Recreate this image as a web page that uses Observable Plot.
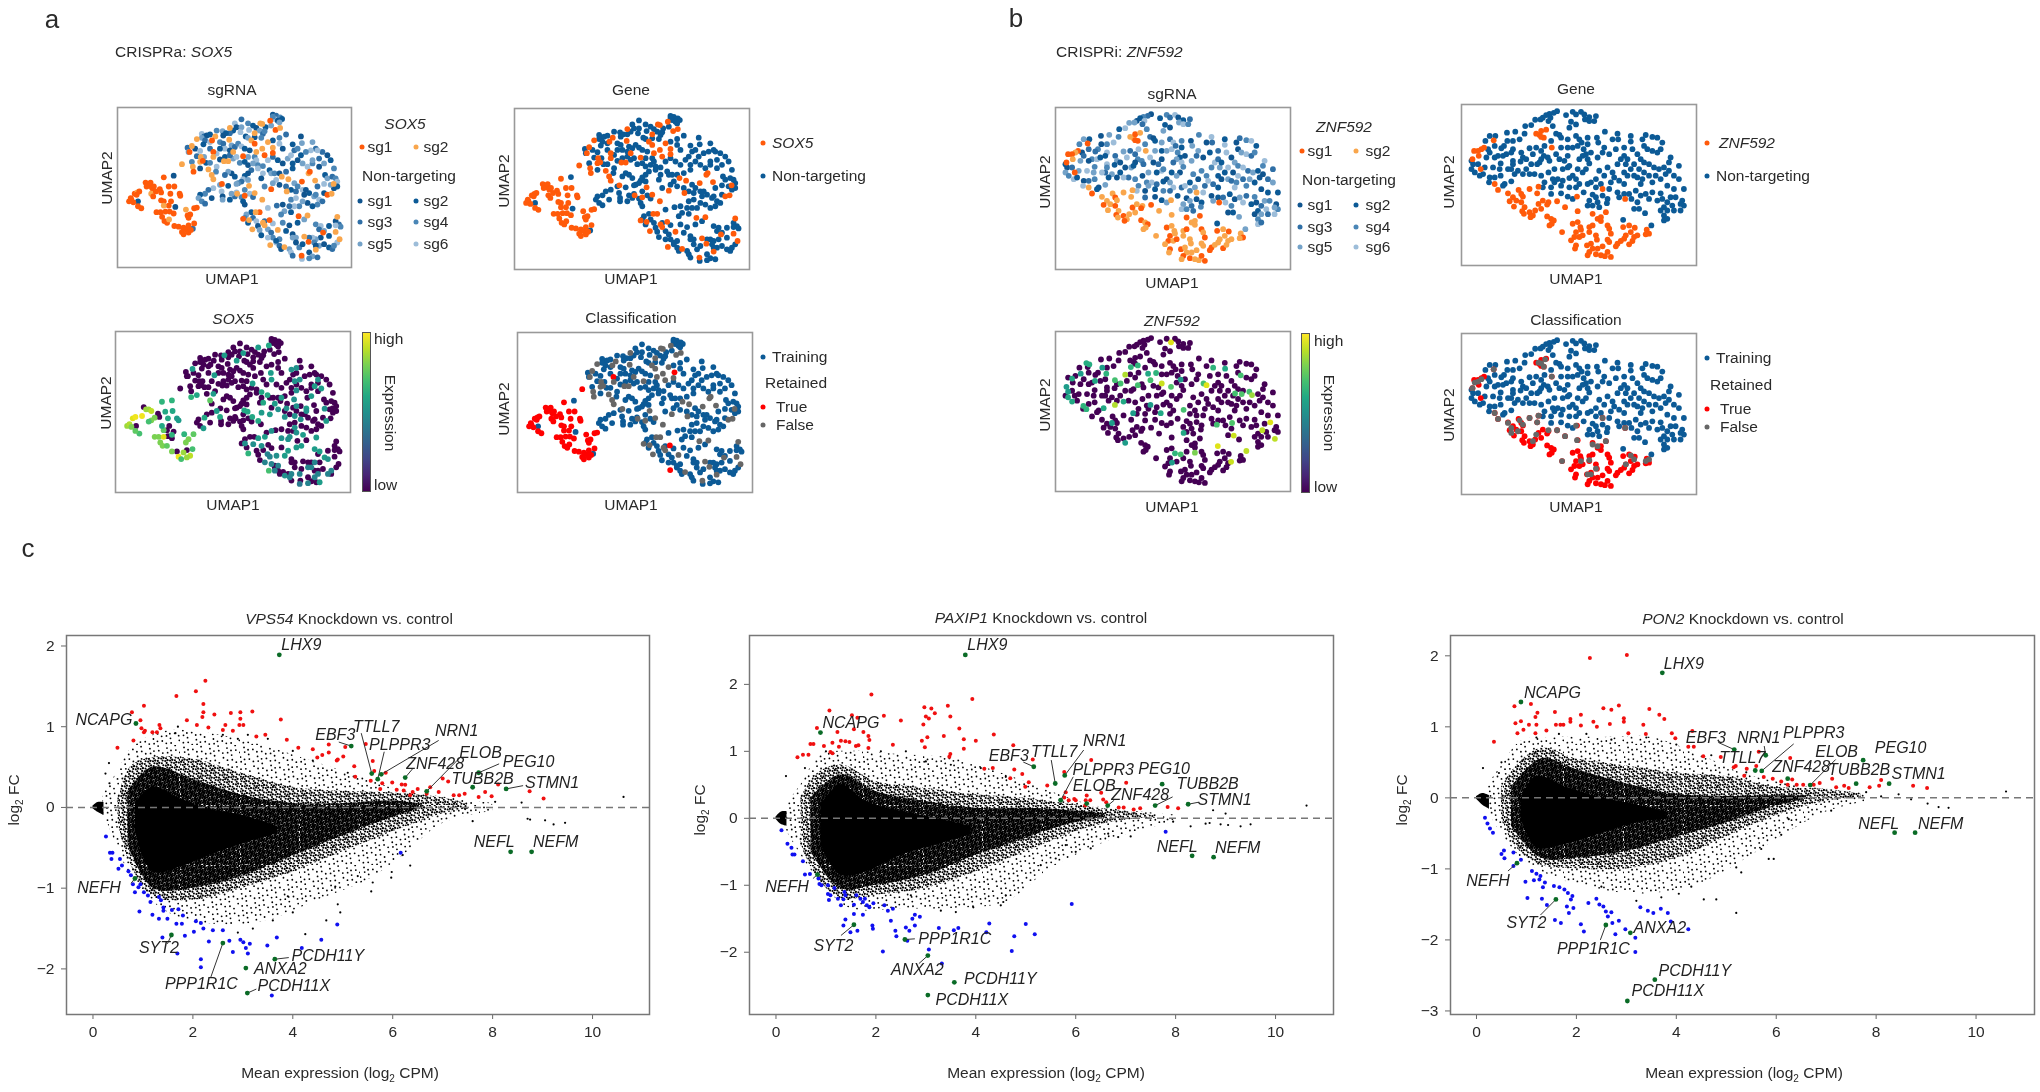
<!DOCTYPE html>
<html><head><meta charset="utf-8">
<script src="https://cdn.jsdelivr.net/npm/d3@7"></script>
<script src="https://cdn.jsdelivr.net/npm/@observablehq/plot@0.6"></script>
<style>
html,body{margin:0;padding:0;background:#fff}
#page{position:relative;width:2040px;height:1092px;overflow:hidden;font-family:"Liberation Sans",Arial,sans-serif;color:#2a2a2a;filter:blur(.45px)}
#page svg{position:absolute;overflow:visible;background:transparent}
.t{position:absolute;white-space:nowrap;font-size:15.5px;line-height:1}
.d{position:absolute;border-radius:50%;width:5px;height:5px;transform:translate(-50%,-50%)}
sub{font-size:10px;line-height:0}
</style></head><body><div id="page"></div>
<script>
// ---------- UMAP, experiment a (CRISPRa SOX5) ----------
const umapA_left=[[35,285],[42,280],[48,288],[40,275],[52,262],[60,258],[66,255],[58,265],[85,228],[92,232],[98,238],[105,245],[88,240],[100,228],[110,240],[102,262],[108,270],[116,255],[128,248],[132,258],[155,240],[172,240],[140,212],[195,172],[160,262],[188,262],[190,268],[132,282],[140,285],[162,285],[155,298],[140,298],[62,300],[72,306],[118,318],[130,318],[145,316],[158,316],[170,322],[135,332],[142,345],[150,350],[156,340],[172,360],[185,362],[200,365],[208,370],[195,378],[200,385],[215,380],[222,372],[232,352],[215,358],[207,310],[212,328],[220,325],[215,335],[232,306],[240,304]];
const umapA_up=[[240,96],[225,117],[218,135],[296,88],[286,100],[338,98],[340,62],[415,78],[405,100],[415,110],[438,50],[432,48],[462,40],[478,68],[492,62],[455,105],[470,122],[470,138],[438,125],[420,135],[445,145],[350,135],[380,148],[322,163],[335,163],[290,135],[275,188],[252,150],[250,165],[258,162],[290,150],[228,180],[230,195],[285,205],[290,218],[316,232],[398,238],[415,260],[362,262],[385,268],[438,280],[465,248],[512,255],[497,210],[517,218],[558,225],[578,200],[582,195],[598,222],[654,232],[635,265],[648,262],[548,330],[575,328],[665,332],[430,318],[418,318],[380,338],[398,342],[440,350],[445,358],[460,342],[408,370],[485,372],[622,380],[660,378],[672,400],[578,408],[565,392],[505,424],[462,418],[600,432],[557,450]];
const sgUpA="2212122221221122212212122122212212212221212221212212122121222122122122221";
const sgLeftA="11111211111111121111111211111112111111111121111111111211111";
const umapA_retainedExtra=[[289,135],[473,121],[459,343],[460,418]];
const umapA_nt=[[470,22],[480,25],[492,30],[498,35],[475,35],[485,40],[490,45],[465,55],[448,60],[470,28],[375,36],[355,48],[360,60],[350,70],[340,78],[375,60],[372,75],[395,48],[410,55],[420,62],[430,70],[440,80],[445,72],[398,68],[388,88],[395,92],[415,90],[435,92],[255,80],[262,88],[270,85],[280,82],[255,92],[265,100],[280,105],[300,70],[318,72],[328,78],[320,85],[310,105],[320,110],[325,125],[310,125],[345,115],[340,130],[355,120],[365,110],[375,118],[385,125],[400,130],[395,150],[415,150],[420,160],[212,122],[215,135],[235,125],[260,112],[250,132],[240,148],[225,165],[250,185],[262,150],[268,168],[280,168],[280,125],[300,140],[310,158],[325,150],[350,155],[360,150],[340,145],[370,168],[385,165],[395,175],[410,170],[425,175],[425,185],[405,190],[395,200],[385,208],[380,218],[395,220],[375,225],[365,230],[355,210],[345,200],[335,195],[325,205],[300,180],[298,195],[170,207],[310,235],[335,238],[290,245],[275,250],[265,262],[250,265],[245,275],[285,275],[255,285],[265,292],[315,255],[318,270],[318,280],[340,280],[355,270],[360,258],[375,272],[380,285],[385,295],[360,232],[385,250],[400,262],[410,272],[345,262],[62,285],[175,302],[228,368],[445,240],[440,200],[435,215],[460,190],[465,200],[440,178],[455,160],[470,150],[485,160],[500,170],[515,155],[525,145],[535,130],[545,125],[530,112],[558,108],[555,88],[510,82],[490,92],[490,110],[500,125],[470,100],[590,105],[600,125],[585,130],[570,135],[555,145],[545,160],[560,170],[575,180],[590,170],[610,155],[625,170],[635,145],[645,160],[655,185],[620,135],[605,130],[610,180],[590,160],[530,185],[510,195],[480,220],[475,200],[490,200],[530,170],[535,230],[545,240],[560,250],[540,255],[525,250],[490,235],[470,230],[510,240],[525,280],[540,275],[565,265],[580,260],[595,270],[610,280],[620,285],[605,295],[590,300],[575,290],[560,285],[550,300],[535,300],[520,300],[505,315],[525,318],[500,295],[482,298],[455,305],[495,325],[570,250],[628,205],[635,215],[650,210],[660,215],[665,225],[665,240],[655,245],[645,235],[625,232],[605,240],[600,265],[625,260],[405,318],[390,325],[385,335],[410,335],[420,345],[395,350],[425,360],[430,372],[445,345],[470,352],[500,350],[520,358],[545,350],[565,340],[600,355],[615,360],[610,370],[625,375],[640,360],[660,345],[670,355],[675,362],[660,358],[640,390],[615,395],[600,400],[590,395],[580,395],[595,410],[610,420],[625,415],[640,425],[650,430],[665,410],[655,420],[600,420],[435,388],[455,370],[465,380],[470,395],[455,395],[510,375],[530,385],[540,395],[490,400],[480,410],[490,420],[495,430],[480,405],[520,430],[525,440],[530,450],[550,425],[560,415],[580,440],[590,452],[605,455],[580,458],[558,460],[530,395],[540,410]];
const sgNtA="134261552436123564215346251463125364521436251346215463512634152436125634215463126534215364152634251436152364215463521346125463215634251346125364215643512436152364125463215346125634215463521364125346215634125436215364125463521346215634512364125346215463125634215346512364125463215346125634";
const exprA=[[35,285,.85],[42,280,.88],[48,288,.8],[52,262,.95],[60,258,.98],[80,255,.98],[92,235,.85],[100,235,.85],[108,240,.9],[118,260,.8],[108,268,.8],[100,272,.7],[140,212,.65],[170,208,.65],[150,242,.6],[172,240,.6],[158,262,.6],[185,262,.55],[190,268,.55],[145,298,.75],[140,285,.6],[170,312,.65],[118,318,.8],[130,318,.8],[145,318,.95],[135,335,.8],[142,345,.8],[155,345,.75],[170,362,.8],[190,378,.98],[205,365,.85],[225,375,.9],[215,380,.85],[232,355,.7],[198,385,.7],[207,310,.65],[220,325,.8],[212,335,.8],[235,310,.75],[72,308,.7],[60,300,.75],[232,113,.55],[328,72,.55],[365,88,.55],[385,65,.55],[430,48,.55],[462,42,.6],[298,132,.55],[228,198,.65],[245,192,.6],[295,188,.55],[285,208,.75],[413,157,.55],[440,183,.6],[458,192,.6],[468,125,.55],[470,145,.55],[530,115,.5],[545,110,.5],[540,150,.5],[590,195,.55],[620,172,.55],[538,205,.5],[500,200,.55],[480,218,.55],[445,215,.6],[388,238,.6],[398,242,.6],[305,240,.55],[268,260,.6],[315,258,.6],[265,292,.55],[412,258,.6],[430,270,.6],[440,245,.55],[465,250,.55],[510,258,.5],[515,232,.5],[545,225,.5],[575,232,.55],[630,233,.5],[540,255,.5],[558,265,.5],[635,270,.55],[525,318,.5],[545,305,.5],[565,312,.55],[605,320,.55],[520,325,.5],[500,322,.5],[450,318,.55],[430,322,.55],[390,338,.5],[400,368,.65],[458,370,.45],[465,378,.45],[450,395,.45],[510,375,.55],[520,360,.55],[545,350,.55],[600,355,.55],[615,362,.55],[630,380,.55],[600,395,.45],[580,410,.45],[610,430,.45],[525,440,.45],[490,405,.45],[462,420,.7],[510,435,.5],[580,458,.45],[555,460,.4],[615,455,.55],[555,145,.5],[610,145,.5],[600,165,.55],[545,178,.5],[490,235,.5],[575,240,.5],[470,300,.5],[540,290,.5],[560,345,.55],[640,385,.5],[590,410,.45],[650,420,.45],[470,400,.45],[480,420,.45],[530,430,.45],[555,430,.45],[640,430,.45],[600,440,.45],[485,375,.5],[415,340,.5],[440,345,.5]];
// ---------- UMAP, experiment b (CRISPRi ZNF592) ----------
const umapB_target=[[225,88],[235,92],[240,80],[255,76],[248,100],[240,98],[272,130],[97,108],[68,130],[60,135],[50,140],[38,140],[52,155],[33,165],[58,195],[100,240],[110,258],[140,268],[172,258],[180,270],[155,280],[145,292],[165,290],[185,278],[180,295],[158,308],[190,310],[183,322],[188,330],[205,325],[215,335],[208,340],[222,320],[240,315],[232,300],[245,290],[262,295],[258,302],[205,255],[232,248],[228,268],[288,292],[312,310],[350,322],[258,338],[270,345],[278,350],[265,365],[272,360],[395,330],[410,345],[420,340],[435,325],[420,352],[335,360],[350,355],[358,370],[345,385],[340,400],[330,410],[355,400],[365,395],[385,370],[395,365],[385,385],[360,378],[345,425],[342,435],[378,425],[390,420],[395,435],[385,445],[380,455],[405,452],[420,455],[432,458],[450,460],[410,435],[425,428],[440,445],[408,408],[405,395],[440,365],[445,375],[450,390],[440,408],[445,415],[470,420],[480,412],[465,428],[490,405],[495,395],[505,422],[515,412],[520,400],[530,395],[487,370],[505,365],[522,372],[510,385],[558,378],[565,390],[555,392],[303,385],[425,255],[493,285],[348,278]];
const sgTargetB="2212112112112112122121221221212122122122212212122122121221122121221212212122122122121221212212221212212221212";
const umapB_gray=[[240,90],[232,88],[252,78],[248,100],[272,130],[97,108],[50,145],[60,138],[40,148],[33,165],[100,240],[110,258],[140,270],[175,262],[185,275],[150,285],[150,300],[170,295],[205,255],[228,268],[232,248],[262,292],[288,292],[312,310],[348,322],[215,325],[225,305],[303,385],[395,335],[410,340],[435,325],[360,385],[385,382],[405,408],[380,425],[390,425],[345,278],[425,255],[493,285],[510,368],[520,380],[495,395],[555,385],[565,380]];
const umapB_nt=[[288,20],[278,25],[265,28],[255,32],[268,40],[245,40],[238,45],[222,46],[315,32],[335,22],[345,30],[360,22],[370,30],[385,38],[405,35],[372,45],[385,50],[400,50],[330,52],[345,60],[325,70],[262,50],[275,65],[210,62],[192,65],[162,82],[137,85],[190,88],[175,105],[285,88],[295,92],[300,100],[320,105],[345,95],[355,105],[72,110],[85,95],[102,95],[138,110],[128,125],[120,132],[155,135],[150,145],[205,132],[80,135],[85,145],[110,155],[125,155],[135,150],[100,160],[75,160],[118,178],[155,170],[180,145],[185,160],[195,165],[178,172],[215,150],[240,140],[248,155],[240,165],[228,180],[235,175],[260,160],[265,170],[285,150],[295,165],[320,130],[335,130],[350,125],[362,115],[380,100],[380,120],[408,100],[412,115],[432,82],[470,88],[472,105],[455,105],[510,95],[510,112],[430,130],[425,145],[368,135],[375,150],[390,145],[365,155],[355,165],[380,165],[385,178],[375,195],[365,205],[350,195],[320,190],[310,170],[325,185],[305,195],[280,195],[262,205],[240,215],[220,210],[205,210],[185,210],[170,200],[160,210],[150,195],[140,195],[155,180],[30,170],[35,180],[30,195],[40,205],[55,215],[50,180],[70,190],[65,210],[85,220],[100,220],[118,215],[83,235],[130,240],[125,245],[150,232],[275,225],[290,225],[305,230],[325,222],[335,215],[345,225],[355,240],[345,250],[325,250],[300,245],[280,235],[270,250],[270,270],[250,235],[245,250],[300,268],[320,278],[335,285],[380,240],[390,235],[405,250],[368,265],[395,272],[385,290],[380,305],[395,305],[410,295],[405,280],[425,275],[440,285],[438,298],[415,310],[445,255],[470,265],[475,280],[490,270],[505,270],[512,285],[530,295],[520,315],[535,315],[553,328],[455,205],[460,220],[475,230],[490,240],[500,215],[520,215],[530,220],[545,225],[550,205],[535,195],[510,195],[495,180],[480,165],[490,155],[470,180],[500,165],[530,150],[540,165],[550,175],[565,180],[580,190],[595,195],[610,190],[625,200],[655,185],[630,160],[625,175],[615,210],[600,225],[585,215],[565,215],[575,235],[540,240],[525,260],[540,275],[555,270],[565,285],[575,265],[600,268],[605,285],[590,290],[630,280],[645,280],[620,295],[635,305],[610,310],[600,320],[620,320],[640,320],[660,320],[670,305],[665,290],[670,255],[660,300],[610,335],[610,350],[620,345],[572,365],[487,348],[545,105],[555,92],[575,98],[590,100],[605,115],[550,125],[560,135],[575,140],[590,145],[600,135],[410,160],[445,150],[465,135],[490,130],[515,135],[415,200],[430,215],[405,225],[420,240],[450,235],[440,190],[520,180],[490,205],[320,155],[300,130],[270,110],[250,125],[225,130],[210,180],[195,195],[115,195],[95,190],[100,125],[155,110],[640,255],[620,245],[655,225],[640,215]];
const sgNtB="134261552436123564215346251463125364521436251346215463512634152436125634215463126534215364152634251436152364215463521346125463215634251346125364215643512436152364125463215346125634215463521364125346215634125436215364125463521346215634512364125346215463125634215346512364125463215346125634251364125463215";
const exprB=[[93,96,.62],[102,100,.62],[76,128,.55],[50,143,.6],[33,168,.55],[38,183,.55],[38,200,.6],[50,213,.6],[84,226,.65],[93,236,.65],[141,110,.55],[119,150,.6],[153,128,.65],[179,148,.7],[196,158,.7],[227,108,.65],[248,103,.65],[279,128,.6],[303,126,.65],[286,148,.7],[248,163,.7],[348,168,.72],[377,146,.55],[386,238,.7],[234,248,.55],[145,233,.6],[205,213,.6],[286,223,.55],[317,248,.6],[170,278,.55],[210,338,.55],[386,308,.6],[360,370,.65],[377,373,.7],[351,398,.55],[475,110,.65],[511,113,.6],[558,133,.7],[446,158,.7],[541,188,.7],[561,190,.72],[584,183,.7],[486,283,.7],[532,278,.72],[348,33,.95],[210,131,.88],[455,163,.95],[179,223,.88],[320,158,.92],[647,276,.95],[537,316,.92],[489,348,.95],[575,363,.9],[529,396,.92],[661,326,.9],[623,300,.9],[420,368,.8],[592,193,.85]];
// ---------- MA plots: gene labels [name, x, y, label x, label y, connector x, connector y] ----------
const genes1=[["LHX9",3.73,1.89,4.17,2.01],["NCAPG",.86,1.04,.22,1.09],["EBF3",5.17,.76,4.85,.90,4.92,.81],["TTLL7",5.58,.42,5.67,1.0,5.37,.92],["PLPPR3",5.7,.35,6.14,.78,5.83,.69],["NRN1",5.77,.41,7.28,.95,6.92,.83],["ZNF428",6.25,.37,6.85,.54,6.4,.48],["ELOB",6.68,.2,7.76,.68,7.35,.62],["PEG10",7.72,.43,8.72,.57,8.13,.54],["TUBB2B",7.6,.25,7.8,.35],["STMN1",8.27,.23,9.19,.31,8.61,.27],["NEFL",8.36,-.55,8.03,-.43],["NEFM",8.78,-.55,9.26,-.43],["NEFH",.84,-.88,.12,-1.0,.76,-.94],["SYT2",1.57,-1.58,1.32,-1.74,1.49,-1.69],["PPP1R1C",2.6,-1.68,2.17,-2.19,2.36,-2.1],["ANXA2",3.06,-1.99,3.75,-2.0],["PCDH11Y",3.64,-1.88,4.7,-1.84,3.92,-1.86],["PCDH11X",3.09,-2.3,4.02,-2.21,3.27,-2.25]];
const genes2=[["LHX9",3.79,2.44,4.23,2.59],["NCAPG",.89,1.28,1.5,1.42],["EBF3",5.16,.77,4.66,.93,4.95,.84],["TTLL7",5.59,.52,5.57,.99,5.51,.87],["NRN1",5.78,.64,6.58,1.16,6.16,1.02],["PLPPR3",5.7,.27,6.55,.72,5.95,.62],["ELOB",6.22,.22,6.37,.48],["ZNF428",6.64,.19,7.29,.35,6.77,.27],["PEG10",7.73,.51,7.77,.74],["TUBB2B",7.59,.19,8.64,.51,7.94,.32],["STMN1",8.25,.21,8.98,.27,8.46,.24],["NEFL",8.33,-.56,8.03,-.43],["NEFM",8.76,-.58,9.24,-.44],["NEFH",.83,-.84,.22,-1.03,.74,-.9],["SYT2",1.56,-1.59,1.15,-1.91,1.3,-1.75],["PPP1R1C",2.58,-1.81,3.58,-1.8,2.78,-1.8],["ANXA2",3.04,-2.05,2.83,-2.26,2.86,-2.17],["PCDH11Y",3.57,-2.45,4.49,-2.4],["PCDH11X",3.04,-2.64,3.92,-2.71]];
const genes3=[["LHX9",3.72,1.76,4.15,1.89],["NCAPG",.89,1.35,1.52,1.48],["EBF3",5.16,.68,4.59,.84,4.84,.78],["NRN1",5.79,.6,5.65,.84,5.76,.73],["PLPPR3",5.71,.38,6.75,.91,6.35,.76],["TTLL7",5.58,.385,5.32,.56],["ZNF428",6.23,.27,6.5,.43],["ELOB",6.68,.18,7.21,.65,7.19,.54],["PEG10",7.74,.53,8.49,.7],["TUBB2B",7.6,.2,7.66,.39],["STMN1",8.26,.2,8.85,.34],["NEFL",8.37,-.49,8.05,-.36],["NEFM",8.78,-.49,9.29,-.36],["NEFH",.81,-.92,.23,-1.17,.63,-1.03],["SYT2",1.59,-1.43,1.0,-1.76,1.28,-1.65],["PPP1R1C",2.59,-1.79,2.34,-2.13,2.48,-2.0],["ANXA2",3.08,-1.9,3.67,-1.83],["PCDH11Y",3.57,-2.56,4.37,-2.43],["PCDH11X",3.02,-2.86,3.83,-2.72]];
// up-regulated
const red1=[[2.25,1.57],[2.06,1.44],[1.67,1.38],[2.21,1.28],[1.02,1.26],[.78,1.18],[2.21,1.18],[2.19,1.12],[2.43,1.15],[2.76,1.17],[2.95,1.18],[3.19,1.19],[2.95,1.1],[3.76,1.09],[.95,1.08],[1.88,1.08],[2.08,1.02],[2.31,.99],[2.65,1.02],[2.6,.96],[2.93,1.02],[3.01,1.02],[2.8,.95],[1.33,1.02],[1.35,.98],[1.19,.93],[1.28,.93],[.97,.98],[1.04,.95],[1.02,.93],[.81,.83],[.49,.74],[3.27,.88],[3.45,.9],[3.88,.84],[4.11,.74],[4.4,.72],[4.72,.78],[5.46,.785],[4.49,.62],[4.59,.65],[4.72,.68],[4.88,.58],[4.9,.595],[5.01,.63],[5.05,.75],[5.23,.51],[5.25,.38],[5.6,.575],[5.63,.45],[5.56,.33],[5.86,.43],[5.79,.3],[5.99,.31],[5.75,.23],[6.08,.22],[6.18,.285],[6.25,.28],[6.22,.21],[6.4,.19],[6.5,.23],[6.35,.15],[6.68,.17],[6.75,.25],[6.92,.19],[7.0,.36],[7.11,.32],[7.22,.15],[7.33,.15],[7.44,.17],[7.72,.13],[7.85,.19],[7.98,.14],[8.11,.285],[8.74,.2],[9.02,.11]];
const red2=[[1.91,1.85],[3.93,1.78],[1.07,1.61],[2.97,1.66],[3.11,1.64],[3.18,1.57],[3.44,1.68],[3.49,1.52],[1.52,1.54],[1.63,1.5],[2.16,1.53],[2.5,1.46],[3.0,1.52],[3.06,1.49],[2.95,1.4],[.82,1.35],[1.56,1.33],[1.75,1.29],[1.23,1.29],[3.67,1.34],[1.85,1.23],[1.87,1.17],[3.36,1.23],[4.36,1.25],[3.03,1.21],[3.76,1.18],[4.0,1.16],[2.92,1.16],[1.3,1.16],[1.39,1.15],[1.47,1.14],[1.13,1.13],[.69,1.11],[.75,1.11],[.96,1.08],[1.26,1.07],[1.65,1.09],[1.6,1.08],[1.85,1.05],[2.34,1.1],[2.98,1.06],[3.76,1.04],[4.75,1.09],[1.09,.99],[1.13,.97],[.43,.91],[.54,.95],[.65,.95],[3.49,.96],[3.47,.92],[5.14,.88],[6.31,.87],[4.17,.74],[4.34,.75],[4.77,.73],[4.93,.66],[4.69,.6],[5.06,.54],[4.99,.47],[5.43,.49],[5.77,.69],[7.01,.53],[5.8,.39],[5.77,.31],[5.86,.27],[5.97,.29],[6.0,.27],[6.22,.34],[6.2,.27],[6.29,.27],[6.51,.38],[6.55,.28],[6.61,.24],[6.19,.19],[6.86,.16],[6.96,.16],[7.16,.13],[7.29,.15],[7.84,.17],[8.05,.15]];
const red3=[[2.27,1.97],[3.01,2.01],[.76,1.29],[1.09,1.32],[1.22,1.2],[1.18,1.14],[1.57,1.21],[2.54,1.26],[2.7,1.24],[2.85,1.3],[3.46,1.25],[2.09,1.17],[3.66,1.17],[3.76,1.11],[.78,1.05],[.89,1.08],[1.05,1.03],[1.2,1.03],[1.59,1.03],[1.68,1.03],[1.74,1.03],[1.88,1.11],[1.88,1.07],[2.09,1.02],[2.34,1.07],[2.41,1.0],[2.67,1.04],[2.95,1.12],[2.95,1.07],[3.34,1.03],[.94,.96],[.82,.91],[1.18,.91],[1.4,.95],[3.04,.91],[3.39,.9],[3.91,.91],[4.32,.94],[3.98,.84],[.35,.79],[4.24,.72],[4.35,.72],[4.54,.585],[4.89,.575],[5.65,.65],[6.28,.56],[5.19,.45],[5.15,.43],[5.41,.41],[5.6,.45],[5.36,.31],[5.75,.295],[5.93,.27],[6.1,.23],[6.32,.26],[6.23,.185],[6.41,.185],[6.54,.185],[6.75,.185],[6.87,.21],[7.12,.27],[7.2,.15],[7.36,.17],[7.45,.14],[7.87,.15],[8.06,.17],[8.1,.25],[8.74,.17],[9.02,.14]];
// down-regulated
const blue1=[[.26,-.36],[.34,-.56],[.39,-.56],[.37,-.64],[.54,-.64],[.58,-.72],[.51,-.76],[.71,-.79],[.76,-.84],[.8,-.95],[.95,-.95],[.91,-.99],[.84,-1.05],[1.02,-1.05],[1.1,-1.09],[1.15,-1.17],[1.32,-1.11],[1.36,-1.15],[1.41,-1.24],[.93,-1.29],[1.19,-1.33],[1.32,-1.38],[1.49,-1.38],[1.41,-1.28],[1.58,-1.27],[1.71,-1.26],[1.8,-1.34],[1.67,-1.44],[1.78,-1.44],[2.06,-1.41],[2.16,-1.43],[2.02,-1.54],[2.21,-1.5],[2.4,-1.52],[2.6,-1.52],[1.39,-1.61],[1.84,-1.59],[1.69,-1.81],[2.32,-1.66],[2.73,-1.65],[2.95,-1.64],[3.01,-1.67],[3.14,-1.69],[3.06,-1.74],[3.1,-1.81],[2.8,-1.79],[2.16,-1.88],[2.16,-1.98],[3.49,-1.71],[3.68,-1.61],[4.18,-1.74],[4.57,-1.64],[4.89,-1.45],[3.58,-2.33],[6.16,-.56]];
const blue2=[[.11,-.18],[.23,-.38],[.31,-.44],[.33,-.54],[.37,-.54],[.54,-.64],[.58,-.84],[.68,-.83],[.85,-.9],[.87,-.98],[.91,-1.0],[1.04,-1.0],[1.17,-1.04],[1.04,-1.13],[1.09,-1.15],[1.06,-1.22],[1.24,-1.2],[1.37,-1.1],[1.39,-1.15],[1.35,-1.21],[1.3,-1.3],[1.61,-1.15],[1.69,-1.2],[1.78,-1.2],[1.56,-1.29],[1.74,-1.25],[1.82,-1.3],[1.95,-1.27],[1.87,-1.33],[2.17,-1.3],[2.34,-1.35],[2.24,-1.38],[1.39,-1.51],[1.35,-1.6],[1.56,-1.43],[1.74,-1.44],[2.3,-1.53],[1.93,-1.6],[1.94,-1.65],[1.49,-1.7],[1.63,-1.68],[2.39,-1.68],[2.41,-1.76],[2.63,-1.83],[2.6,-1.63],[2.73,-1.5],[2.78,-1.44],[2.88,-1.47],[2.78,-1.6],[2.67,-1.68],[3.26,-1.64],[3.56,-1.67],[3.65,-1.64],[4.27,-1.57],[4.21,-1.7],[5.0,-1.58],[5.18,-1.73],[4.77,-1.76],[4.72,-1.98],[3.06,-1.96],[2.14,-1.99],[3.32,-2.17],[5.92,-1.28],[7.8,-.2]];
const blue3=[[.17,-.28],[.22,-.36],[.27,-.43],[.33,-.49],[.55,-.74],[.5,-.79],[.74,-.77],[.56,-.85],[.74,-.96],[.89,-.87],[1.11,-1.03],[1.2,-1.07],[1.28,-1.1],[.98,-1.18],[1.15,-1.16],[1.26,-1.15],[1.37,-1.19],[1.33,-1.26],[1.55,-1.24],[1.66,-1.26],[1.76,-1.29],[1.83,-1.34],[1.92,-1.38],[1.89,-1.43],[1.02,-1.41],[1.31,-1.42],[1.41,-1.51],[1.81,-1.53],[1.94,-1.55],[1.85,-1.62],[1.57,-1.72],[1.69,-1.76],[2.24,-1.48],[2.4,-1.42],[2.46,-1.5],[2.54,-1.53],[2.59,-1.6],[2.7,-1.61],[2.63,-1.67],[2.85,-1.73],[2.72,-1.76],[2.09,-1.78],[2.15,-1.88],[2.78,-1.92],[2.98,-1.85],[3.18,-1.97],[3.18,-2.17],[3.28,-1.54],[3.43,-1.59],[3.54,-1.62],[3.69,-1.56],[3.83,-1.62],[3.89,-1.74],[4.24,-1.85]];
// isolated background genes
const black1=[[10.62,.13],[9.45,-.19],[9.22,-.21],[8.75,-.15],[8.7,-.14],[9.05,-.16],[8.58,.06],[8.05,.07],[7.6,-.17],[7.45,-.02],[6.35,-.72],[6.2,-.59],[5.97,-.87],[5.98,-.8],[5.57,-1.04],[5.6,-.93],[4.95,-1.3],[4.9,-1.2],[4.85,-.98],[4.67,-1.4],[4.25,-1.57],[4.0,-1.3],[3.9,-1.1],[3.6,-1.4],[3.2,-1.5],[2.9,-1.55],[5.3,-.85],[.32,.55],[.25,.42],[.33,.3],[1.7,1.0],[1.65,.92],[2.6,.9],[2.9,.85],[3.1,.9],[3.5,.85],[4.0,.7],[4.4,.58],[5.1,.43]];
const black2=[[10.62,.19],[9.0,.07],[8.75,.12],[9.3,-.12],[9.5,-.09],[8.6,-.08],[8.68,-.07],[9.05,-.1],[8.3,-.12],[8.9,-.09],[7.95,-.05],[7.1,-.27],[6.3,-.45],[6.0,-.5],[5.8,-.4],[5.6,-.6],[6.65,-.23],[6.85,-.28],[4.6,-1.15],[4.55,-1.25],[4.5,-1.3],[3.95,-1.33],[3.6,-1.4],[3.3,-1.38],[2.7,-1.15],[5.3,-.7],[.2,.63],[.58,.75],[1.0,1],[2.1,1.0],[2.6,1.0],[3.0,.85],[3.5,.8],[4.1,.75],[4.6,.62]];
const black3=[[10.6,.09],[9.45,-.14],[9.25,-.13],[9.03,-.08],[8.7,-.02],[8.45,.05],[8.1,.02],[7.8,.08],[7.1,-.18],[6.25,-.3],[5.95,-.86],[5.85,-.86],[5.2,-1.62],[4.8,-1.43],[4.55,-1.43],[5.3,-1.05],[5.2,-.98],[4.3,-1.25],[4.05,-1.35],[3.7,-1.4],[3.2,-1.45],[2.5,-1.25],[.13,.42],[.45,.35],[.5,.5],[1.2,.85],[1.65,.9],[2.2,.9],[2.7,.82],[3.4,.85],[4.0,.75],[4.7,.6],[5.4,.36],[6.1,-.52],[5.7,-.72]];
// dense cloud envelopes [mean expression, lower, upper]
const outer1=[[.2,-.05,.15],[.5,-.5,.45],[.8,-.9,.75],[1.5,-1.3,.95],[2.5,-1.45,.9],[3.5,-1.4,.75],[4.5,-1.15,.55],[5.5,-.9,.35],[6.2,-.6,.2],[7,-.2,.13],[8,-.05,.05]];
const mid1=[[.5,-.2,.1],[.75,-.7,.5],[1.2,-1.1,.62],[2,-1.15,.6],[3,-1.0,.42],[4,-.8,.25],[5,-.55,.2],[6,-.3,.18],[7,-.08,.12],[7.5,-.02,.04]];
const inner1=[[.7,-.45,.2],[1.2,-1.0,.5],[2,-1.0,.35],[3,-.85,.15],[4,-.6,.05],[5,-.35,.05],[6,-.12,.08],[6.6,0,.04]];
const core1=[[.85,-.3,.05],[1.2,-.8,.25],[1.7,-.75,.12],[2.3,-.6,-.02],[3,-.45,-.1],[3.7,-.32,-.24]];
const outer2=[[.15,-.1,.15],[.5,-.55,.5],[.9,-.95,.95],[1.5,-1.35,1],[2.5,-1.35,.95],[3.5,-1.35,.9],[4.6,-1.25,.65],[5.5,-.75,.4],[6.3,-.45,.2],[7,-.25,.12],[8,-.05,.05]];
const mid2=[[.5,-.4,.3],[.8,-.85,.65],[1.3,-1.2,.8],[2,-1.15,.55],[3,-1.05,.45],[4,-.8,.35],[5,-.5,.3],[6,-.2,.2],[7,-.02,.1],[7.6,0,.04]];
const inner2=[[.7,-.5,.3],[1.3,-1.05,.65],[2,-1.0,.4],[3,-.85,.25],[4,-.55,.15],[5,-.3,.15],[5.8,-.1,.12],[6.6,.02,.07]];
const core2=[[.9,-.4,.2],[1.3,-.85,.5],[1.8,-.8,.25],[2.5,-.55,.1],[3.2,-.4,0],[3.9,-.24,-.12]];
const outer3=[[.15,-.1,.1],[.5,-.5,.45],[.9,-.85,.8],[1.5,-1.1,.85],[2.5,-1.3,.85],[3.5,-1.35,.85],[4.5,-1.2,.6],[5.3,-.9,.35],[6.2,-.5,.2],[7,-.2,.12],[7.8,-.05,.06]];
const mid3=[[.5,-.3,.15],[.8,-.7,.45],[1.3,-.95,.7],[2,-1.0,.55],[3,-1.0,.45],[4,-.85,.35],[5,-.55,.3],[6,-.25,.15],[7,-.05,.12],[7.7,0,.05]];
const inner3=[[.7,-.4,.15],[1.3,-.85,.55],[2,-.85,.4],[3,-.75,.2],[4,-.55,.05],[5,-.35,.02],[5.9,-.14,.03],[6.6,-.02,.03]];
const core3=[[.9,-.3,0],[1.2,-.7,.3],[1.8,-.65,.15],[2.5,-.5,0],[3.2,-.35,-.1],[3.8,-.3,-.2]];
const funnel1=[[0,-.015,.015],[.1,-.06,.06],[.22,-.1,.06]],funnel2=[[0,-.015,.015],[.1,-.09,.09],[.22,-.12,.1]],funnel3=[[0,-.015,.015],[.12,-.1,.06],[.26,-.16,.03]];
const xTicks=[0,2,4,6,8,10];
const ticks1=[-2,-1,0,1,2],ticks2=[-2,-1,0,1,2],ticks3=[-3,-2,-1,0,1,2];

const C={orange:"#ff5a0a",lightOrange:"#f9a64c",blue:"#0c5a96",red:"#ff0000",gray:"#666666",green:"#0a6b26",maBlue:"#1010f0",maRed:"#f01010"};
const ntShades={1:"#10558f",2:"#0c5a96",3:"#2f6fa6",4:"#4a86b6",5:"#74a2c8",6:"#9dbdd9"};
const page=document.getElementById("page");
const FONT='"Liberation Sans",Arial,sans-serif';

// stipple fills (a texture, not data) for the dense point cloud
const defs=d3.select(page).append("svg").attr("width",0).attr("height",0).append("defs");
function pat(id,n,r){const S=60,p=defs.append("pattern").attr("id",id).attr("width",S).attr("height",S).attr("patternUnits","userSpaceOnUse");
 for(let i=1;i<=n;i++)p.append("circle").attr("cx",(i*.7548776662%1)*S).attr("cy",(i*.5698402910%1)*S).attr("r",r).attr("fill","#000");}
pat("speck",130,.9);pat("mid",480,1.05);pat("inner",950,1.2);

function place(svg,left,top){svg.style.left=left+"px";svg.style.top=top+"px";page.appendChild(svg);}
function t(html,x,y,o={}){const e=document.createElement("div");e.className="t";e.innerHTML=html;e.style.left=x+"px";e.style.top=y+"px";
 const a=o.anchor||"middle";let tr=a==="middle"?"translate(-50%,-50%)":"translateY(-50%)";if(o.rot)tr=`translate(-50%,-50%) rotate(${o.rot}deg)`;
 e.style.transform=tr;if(o.size)e.style.fontSize=o.size+"px";page.appendChild(e);}
function dot(x,y,c){const e=document.createElement("div");e.className="d";e.style.left=x+"px";e.style.top=y+"px";e.style.background=c;page.appendChild(e);}

function umap(left,top,w,h,marks){
 const svg=Plot.plot({width:w+2,height:h+2,marginLeft:1,marginRight:1,marginTop:1,marginBottom:1,
  x:{domain:[0,708],axis:null},y:{domain:[486,0],axis:null},
  color:{type:"linear",scheme:"viridis",domain:[0,1]},
  marks:[...marks,Plot.frame({stroke:"#999",strokeWidth:1.6})]});
 place(svg,left-1,top-1);}
const R=2.9;
const xy={x:d=>d[0],y:d=>d[1],r:R};
const pts=(a,fill)=>Plot.dot(a,{...xy,fill});

function umapSet(cfg){
 const {nt,sgNt,target,sgTarget,expr,red,gray,fr}=cfg;
 const tRows=target.map((d,i)=>[d[0],d[1],sgTarget[i]||"1"]);
 const nRows=nt.map((d,i)=>[d[0],d[1],sgNt[i]||"1"]);
 const mixed=[...nRows.map(d=>[d[0],d[1],ntShades[d[2]]]),...tRows.map(d=>[d[0],d[1],d[2]==="1"?C.orange:C.lightOrange])];
 umap(...fr[0],[Plot.dot(mixed,{...xy,fill:d=>d[2]})]);
 umap(...fr[1],[pts(nt,C.blue),pts(target,C.orange)]);
 const base=[...nt,...target].filter(p=>!expr.some(q=>Math.hypot(q[0]-p[0],q[1]-p[1])<9));
 umap(...fr[2],[Plot.dot(base,{...xy,fill:()=>0}),Plot.dot(expr,{...xy,fill:d=>d[2]})]);
 umap(...fr[3],[pts(nt,C.blue),pts(red,C.red),pts(gray,C.gray)]);
}
const upA=umapA_up,leftA=umapA_left;
umapSet({nt:umapA_nt,sgNt:sgNtA,target:[...leftA,...upA],sgTarget:sgLeftA+sgUpA,expr:exprA,
 red:[...leftA,...umapA_retainedExtra],gray:upA.filter(p=>!umapA_retainedExtra.some(q=>Math.abs(q[0]-p[0])<6&&Math.abs(q[1]-p[1])<6)),
 fr:[[117,107,234,160],[514,108,235,161],[115,331,235,161],[517,332,235,160]]});
umapSet({nt:umapB_nt,sgNt:sgNtB,target:umapB_target,sgTarget:sgTargetB,expr:exprB,red:umapB_target,gray:umapB_gray,
 fr:[[1055,107,235,162],[1461,104,235,161],[1055,331,235,160],[1461,333,235,161]]});

function bar(x,y,w,h){const e=document.createElement("div");e.style.cssText=`position:absolute;left:${x}px;top:${y}px;width:${w}px;height:${h}px;border:1px solid #555;box-sizing:border-box;background:linear-gradient(to top,${d3.range(0,1.01,.1).map(v=>d3.interpolateViridis(v)).join(",")})`;page.appendChild(e);}
bar(362,332,9,160);bar(1301,333,9,160);

function ma(fr,yDom,yTicks,xDom,o){
 const [L,T,W,H]=fr;const mL=66,mR=10,mT=10,mB=40;
 const area=(a,fill)=>Plot.areaY(a,{x:d=>d[0],y1:d=>d[1],y2:d=>d[2],fill,curve:"catmull-rom"});
 const dots=(a,fill,r)=>Plot.dot(a,{x:d=>d[0],y:d=>d[1],fill,r});
 const svg=Plot.plot({width:W+mL+mR,height:H+mT+mB,marginLeft:mL,marginRight:mR,marginTop:mT,marginBottom:mB,
  style:{fontFamily:FONT,fontSize:"15.5px",color:"#2a2a2a",background:"transparent"},
  x:{domain:xDom,label:null},y:{domain:yDom,label:null},
  marks:[
   area(o.outer,"url(#speck)"),area(o.mid,"url(#mid)"),area(o.inner,"url(#inner)"),area(o.core,"#000"),area(o.funnel,"#000"),
   dots(o.black,"#000",1.1),
   Plot.ruleY([0],{stroke:"#777",strokeWidth:1.5,strokeDasharray:"7,5"}),
   dots(o.red,C.maRed,2),dots(o.blue,C.maBlue,2),
   Plot.link(o.genes.filter(g=>g[5]!==undefined),{x1:g=>g[1],y1:g=>g[2],x2:g=>g[5],y2:g=>g[6],stroke:"#333",strokeWidth:1}),
   dots(o.genes.map(g=>[g[1],g[2]]),C.green,2.4),
   Plot.text(o.genes,{x:g=>g[3],y:g=>g[4],text:g=>g[0],fontStyle:"italic",fontSize:16,fill:"#222"}),
   Plot.axisX({ticks:xTicks,tickSize:5,tickPadding:6,stroke:"#666",label:null,fontSize:15.5}),
   Plot.axisY({ticks:yTicks,tickSize:5,tickPadding:7,stroke:"#666",label:null,fontSize:15.5,tickFormat:d3.format("d")}),
   Plot.frame({stroke:"#777",strokeWidth:1.5})
  ]});
 place(svg,L-mL,T-mT);
}
ma([66,635,583,379],[-2.565,2.13],ticks1,[-.53,11.14],{outer:outer1,mid:mid1,inner:inner1,core:core1,funnel:funnel1,black:black1,red:red1,blue:blue1,genes:genes1});
ma([749,635,584,379],[-2.93,2.73],ticks2,[-.53,11.16],{outer:outer2,mid:mid2,inner:inner2,core:core2,funnel:funnel2,black:black2,red:red2,blue:blue2,genes:genes2});
ma([1450,635,584,379],[-3.05,2.286],ticks3,[-.52,11.17],{outer:outer3,mid:mid3,inner:inner3,core:core3,funnel:funnel3,black:black3,red:red3,blue:blue3,genes:genes3});

// ---- text a ----
t("a",52,19,{size:26});t("b",1016,18,{size:26});t("c",28,548,{size:26});
t("CRISPRa: <i>SOX5</i>",115,52,{anchor:"start"});t("CRISPRi: <i>ZNF592</i>",1056,52,{anchor:"start"});
[["sgRNA",232,90],["Gene",631,90],["<i>SOX5</i>",233,319],["Classification",631,318],["sgRNA",1172,94],["Gene",1576,89],["<i>ZNF592</i>",1172,321],["Classification",1576,320]].forEach(d=>t(...d));
[[232,279],[631,279],[233,505],[631,505],[1172,283],[1576,279],[1172,507],[1576,507]].forEach(([x,y])=>t("UMAP1",x,y));
[[107,178],[504,181],[106,403],[504,409],[1045,182],[1449,182],[1045,405],[1449,415]].forEach(([x,y])=>t("UMAP2",x,y,{rot:-90}));
function sgLegend(head,hx,hy,ntx,nty,dotXs,textXs,topY,rows){
 t(`<i>${head}</i>`,hx,hy);dot(dotXs[0]+2,topY,C.orange);t("sg1",textXs[0],topY);dot(dotXs[1],topY,C.lightOrange);t("sg2",textXs[1],topY);
 t("Non-targeting",ntx,nty);
 rows.forEach((y,i)=>{const a=i*2+1,b=i*2+2;dot(dotXs[0],y,ntShades[a]);t("sg"+a,textXs[0],y);dot(dotXs[1],y,ntShades[b]);t("sg"+b,textXs[1],y);});}
sgLegend("SOX5",405,124,409,176,[360,416],[380,436],147,[201,222,244]);
sgLegend("ZNF592",1344,127,1349,180,[1300,1356],[1320,1378],151,[205,227,247]);
function geneLegend(name,dx,tx,tx2,y1,y2){dot(dx,y1,C.orange);t(`<i>${name}</i>`,tx,y1,{anchor:"start"});dot(dx,y2,C.blue);t("Non-targeting",tx2,y2,{anchor:"start"});}
geneLegend("SOX5",763,772,772,143,176);geneLegend("ZNF592",1707,1719,1716,143,176);
function classLegend(dx,tx,tx2,rx,y1,y2,y3,y4){dot(dx,y1,C.blue);t("Training",tx,y1,{anchor:"start"});t("Retained",rx,y2);dot(dx,y3,C.red);t("True",tx2,y3,{anchor:"start"});dot(dx,y4,C.gray);t("False",tx2,y4,{anchor:"start"});}
classLegend(763,772,776,796,357,383,407,425);classLegend(1707,1716,1720,1741,358,385,409,427);
t("high",374,339,{anchor:"start"});t("low",374,485,{anchor:"start"});t("Expression",390,413,{rot:90});
t("high",1314,341,{anchor:"start"});t("low",1314,487,{anchor:"start"});t("Expression",1329,413,{rot:90});
// ---- text c ----
t("<i>VPS54</i> Knockdown vs. control",349,619);t("<i>PAXIP1</i> Knockdown vs. control",1041,618);t("<i>PON2</i> Knockdown vs. control",1743,619);
[340,1046,1744].forEach(x=>t("Mean expression (log<sub>2</sub> CPM)",x,1073));
[[14,800],[700,810],[1402,800]].forEach(([x,y])=>t("log<sub>2</sub> FC",x,y,{rot:-90}));
</script></body></html>
